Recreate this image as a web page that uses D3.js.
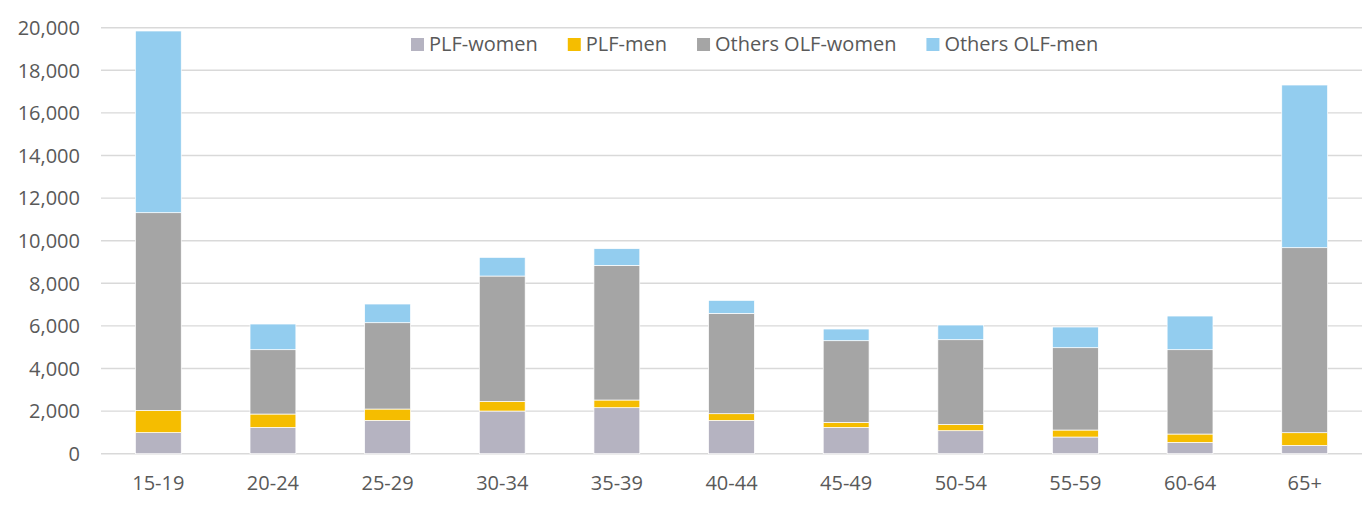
<!DOCTYPE html>
<html><head><meta charset="utf-8">
<script src="https://cdn.jsdelivr.net/npm/d3@7"></script>
<style>body{margin:0;background:#fff}svg{display:block}</style>
</head><body>
<svg id="chart" width="1369" height="510"></svg>
<script>
const categories = ["15-19","20-24","25-29","30-34","35-39","40-44","45-49","50-54","55-59","60-64","65+"];
const seriesNames = ["PLF-women","PLF-men","Others OLF-women","Others OLF-men"];
const plfWomen     = [990, 1236, 1565, 2003, 2160, 1565, 1236, 1080, 783, 532, 391];
const plfMen       = [1045, 626, 532, 454, 360, 313, 235, 297, 328, 391, 595];
const othersWomen  = [9280, 3021, 4053, 5884, 6322, 4711, 3834, 3975, 3866, 3960, 8686];
const othersMen    = [8530, 1205, 877, 877, 783, 610, 548, 689, 970, 1580, 7637];
const yTicks = [0,2000,4000,6000,8000,10000,12000,14000,16000,18000,20000];
const colors = ["#b5b3c1","#f5bd00","#a5a5a5","#93cdef"];

(function(){
const svg = d3.select("#chart");
const pl = 101, pr = 1362, pt = 27.7, pb = 453.7;
const x = d3.scaleBand().domain(categories).range([pl, pr]).paddingInner(0.6).paddingOuter(0.3);
const y = d3.scaleLinear().domain([0, 20000]).range([pb, pt]);

const rows = categories.map((c,i)=>({cat:c, "PLF-women":plfWomen[i], "PLF-men":plfMen[i], "Others OLF-women":othersWomen[i], "Others OLF-men":othersMen[i]}));
const stacked = d3.stack().keys(seriesNames)(rows);

svg.append("g").selectAll("line").data(yTicks).join("line")
  .attr("x1", pl).attr("x2", pr)
  .attr("y1", d=>y(d)).attr("y2", d=>y(d))
  .attr("stroke", "#d9d9d9").attr("stroke-width", 1.4);

const yAxis = d3.axisLeft(y).tickValues(yTicks).tickFormat(d3.format(",")).tickSize(0).tickPadding(0);
const ya = svg.append("g").attr("transform", `translate(80,0)`).call(yAxis);
ya.select(".domain").remove();
ya.selectAll("text").attr("font-family","Open Sans").attr("font-size",20).attr("fill","#595959").attr("dy","0.34em");

const xAxis = d3.axisBottom(x).tickSize(0).tickPadding(0);
const xa = svg.append("g").attr("transform", `translate(0,${pb})`).call(xAxis);
xa.select(".domain").remove();
xa.selectAll("text").attr("font-family","Open Sans").attr("font-size",20).attr("fill","#595959").attr("dy",0).attr("y",36);

svg.append("g").selectAll("g").data(stacked).join("g")
  .attr("fill", (d,i)=>colors[i])
  .selectAll("rect").data(d=>d).join("rect")
  .attr("x", d=>x(d.data.cat))
  .attr("width", x.bandwidth())
  .attr("y", d=>y(d[1]))
  .attr("height", d=>y(d[0])-y(d[1]))
  .attr("stroke","#fff").attr("stroke-width",0.7);

const lg = svg.append("g");
let lx = 411;
seriesNames.forEach((name,i)=>{
  lg.append("rect").attr("x", lx).attr("y", 38).attr("width", 13).attr("height", 13).attr("fill", colors[i]);
  const t = lg.append("text").attr("x", lx+18).attr("y", 44).attr("dy","0.35em")
    .attr("font-family","Open Sans").attr("font-size",20).attr("fill","#595959").text(name);
  lx = lx + 18 + t.node().getComputedTextLength() + 30;
});
})();
</script>
</body></html>
